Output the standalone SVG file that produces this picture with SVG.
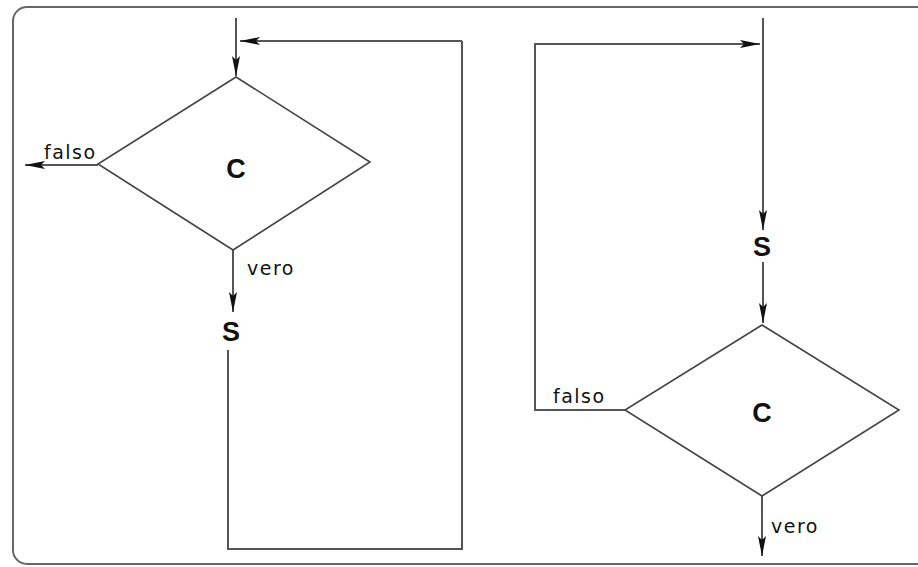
<svg xmlns="http://www.w3.org/2000/svg" width="918" height="567" viewBox="0 0 918 567">
<style>
.ln{fill:none;stroke:#555;stroke-width:2}
.sh{fill:none;stroke:#444;stroke-width:1.6}
.lb{font-family:"DejaVu Sans","Liberation Sans",sans-serif;font-size:19px;letter-spacing:1.5px;fill:#111}
.bg{font-family:"Liberation Sans",Arial,sans-serif;font-size:27px;font-weight:bold;fill:#111;text-anchor:middle}
</style>
<defs>
<marker id="ar" viewBox="0 0 20 8" refX="20" refY="4" markerWidth="20" markerHeight="8" markerUnits="userSpaceOnUse" orient="auto">
<path d="M0,0 L20,4 L0,8 L4,4 Z" fill="#111"/>
</marker>
</defs>
<rect x="13" y="7" width="930" height="557" rx="14" fill="none" stroke="#666" stroke-width="2"/>
<g id="connectors">
<path class="ln" d="M236,18 V76" marker-end="url(#ar)"/>
<path class="ln" d="M462,41 H240" marker-end="url(#ar)"/>
<path class="ln" d="M228,350 V549 H462 V41"/>
<path class="ln" d="M98,165 H25" marker-end="url(#ar)"/>
<path class="ln" d="M233,250 V312" marker-end="url(#ar)"/>
<path class="ln" d="M625,410 H535 V44 H760" marker-end="url(#ar)"/>
<path class="ln" d="M763,18 V230" marker-end="url(#ar)"/>
<path class="ln" d="M763,262 V323" marker-end="url(#ar)"/>
<path class="ln" d="M762,496 V556" marker-end="url(#ar)"/>
</g>
<g id="c1">
<polygon class="sh" points="236,77 370,162 233,250 98,164"/>
<text class="bg" x="236" y="178">C</text>
</g>
<g id="s1"><text class="bg" x="231" y="341">S</text></g>
<g id="s2"><text class="bg" x="762" y="256">S</text></g>
<g id="c2">
<polygon class="sh" points="762,325 899,410 762,496 625,410"/>
<text class="bg" x="762" y="422">C</text>
</g>
<text class="lb" x="44" y="159">falso</text>
<text class="lb" x="247" y="275">vero</text>
<text class="lb" x="553" y="403">falso</text>
<text class="lb" x="771" y="533">vero</text>
</svg>
